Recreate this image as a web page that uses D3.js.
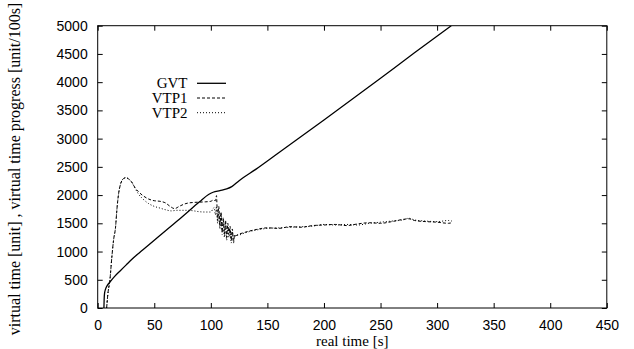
<!DOCTYPE html>
<html>
<head>
<meta charset="utf-8">
<title>GVT / VTP</title>
<script src="https://cdn.jsdelivr.net/npm/d3@7"></script>
<style>
  body { margin: 0; background: #fff; }
  svg { display: block; font-family: "Liberation Serif", "Times New Roman", serif; }
  .tick line { stroke: #000; }
  .tick text { font-size: 14px; fill: #000; }
</style>
</head>
<body>
<svg id="chart" width="634" height="349"></svg>
<script>
// data (time in s, value in unit)
const xTicks = [0, 50, 100, 150, 200, 250, 300, 350, 400, 450];
const yTicks = [0, 500, 1000, 1500, 2000, 2500, 3000, 3500, 4000, 4500, 5000];

const gvt = [
  [5.5, 0], [5.7, 150], [6, 250], [7, 340], [8.5, 400], [10.8, 460], [15, 560],
  [20, 660], [25, 760], [30, 860], [40, 1030], [50, 1200], [60, 1370], [75, 1620],
  [90, 1880], [98, 2010], [102, 2050], [108, 2080], [114, 2110], [118.5, 2150],
  [125, 2255], [140, 2460], [160, 2750], [200, 3330], [250, 4070], [280, 4520], [312.5, 5000]
];

const vtp1 = [
  [7.9, 0], [9, 250], [10.8, 500], [12.5, 900], [14, 1200], [15.8, 1437], [17, 1750],
  [18.7, 2055], [20, 2180], [21.7, 2268], [23, 2295], [25, 2309], [27, 2290], [30, 2232],
  [33, 2130], [36, 2060], [40, 1990], [45, 1930], [50, 1900], [55, 1890], [60, 1860],
  [64, 1800], [68, 1760], [72, 1800], [78, 1850], [85, 1870], [90, 1875], [95, 1880],
  [100, 1890], [102, 1910], [104, 1900], [105, 1990], [106, 1550], [107, 1800], [108, 1450],
  [109, 1700], [110, 1350], [111, 1600], [112, 1300], [113, 1550], [114, 1250], [115, 1500],
  [116, 1300], [117, 1450], [118, 1200], [119, 1400], [120, 1150], [121, 1300], [122, 1280],
  [124, 1300], [130, 1340], [140, 1390], [150, 1420], [160, 1410], [170, 1440], [180, 1430],
  [190, 1460], [200, 1470], [210, 1480], [220, 1460], [230, 1490], [240, 1510], [250, 1500],
  [260, 1530], [270, 1570], [275, 1580], [280, 1550], [290, 1530], [300, 1520], [310, 1500], [313, 1510]
];

const vtp2 = [
  [7.9, 0], [9, 250], [10.8, 500], [12.5, 900], [14, 1200], [15.8, 1437], [17, 1750],
  [18.7, 2055], [20, 2180], [21.7, 2268], [23, 2295], [25, 2309], [27, 2290], [30, 2232],
  [33, 2120], [36, 2020], [40, 1930], [45, 1850], [50, 1800], [55, 1770], [60, 1740],
  [65, 1720], [70, 1730], [75, 1730], [80, 1730], [85, 1720], [90, 1705], [95, 1700],
  [100, 1700], [102, 1760], [103, 1780], [104, 1650], [105, 1800], [106, 1500], [107, 1700],
  [108, 1400], [109, 1650], [110, 1300], [111, 1550], [112, 1250], [113, 1500], [114, 1200],
  [115, 1450], [116, 1250], [117, 1400], [118, 1150], [119, 1350], [120, 1200], [121, 1250],
  [122, 1290], [124, 1290], [130, 1330], [140, 1380], [150, 1410], [160, 1420], [170, 1430],
  [180, 1440], [190, 1450], [200, 1480], [210, 1470], [220, 1480], [230, 1470], [240, 1500],
  [250, 1520], [260, 1540], [270, 1560], [275, 1590], [280, 1560], [290, 1540], [300, 1530],
  [310, 1550], [313, 1540]
];

const legendLabels = ["GVT", "VTP1", "VTP2"];

const svg = d3.select("#chart");
const plotL = 97.7, plotR = 606.8, plotT = 25.7, plotB = 308;

const x = d3.scaleLinear().domain([0, 450]).range([plotL, plotR]);
const y = d3.scaleLinear().domain([0, 5000]).range([plotB, plotT]);
const fmt = d3.format("d");

svg.append("defs").append("clipPath").attr("id", "plotClip")
  .append("rect").attr("x", plotL).attr("y", plotT)
  .attr("width", plotR - plotL).attr("height", plotB - plotT);

// axes, ticks pointing inward on all four sides
const gx = svg.append("g").attr("transform", `translate(0,${plotB})`)
  .call(d3.axisBottom(x).tickValues(xTicks).tickFormat(fmt).tickSizeInner(-5).tickSizeOuter(0).tickPadding(12));
const gy = svg.append("g").attr("transform", `translate(${plotL},0)`)
  .call(d3.axisLeft(y).tickValues(yTicks).tickFormat(fmt).tickSizeInner(-5).tickSizeOuter(0).tickPadding(10));
const gt = svg.append("g").attr("transform", `translate(0,${plotT})`)
  .call(d3.axisTop(x).tickValues(xTicks).tickSizeInner(-5).tickSizeOuter(0).tickFormat(""));
const gr = svg.append("g").attr("transform", `translate(${plotR},0)`)
  .call(d3.axisRight(y).tickValues(yTicks).tickSizeInner(-5).tickSizeOuter(0).tickFormat(""));
[gx, gy, gt, gr].forEach(g => g.select(".domain").remove());

svg.append("rect")
  .attr("x", plotL).attr("y", plotT)
  .attr("width", plotR - plotL).attr("height", plotB - plotT)
  .attr("fill", "none").attr("stroke", "#000").attr("stroke-width", 1);

// axis titles
svg.append("text")
  .attr("x", (plotL + plotR) / 2).attr("y", 346)
  .attr("text-anchor", "middle").attr("font-size", 15)
  .text("real time [s]");

svg.append("text")
  .attr("transform", "translate(20,169) rotate(-90)")
  .attr("text-anchor", "middle").attr("font-size", 16)
  .text("virtual time [unit] , virtual time progress [unit/100s]");

// series
const line = d3.line().x(d => x(d[0])).y(d => y(d[1])).curve(d3.curveMonotoneX);
const series = [
  { data: gvt, dash: null, width: 1.3 },
  { data: vtp1, dash: "3,2", width: 1 },
  { data: vtp2, dash: "1,2", width: 1 }
];

const plot = svg.append("g").attr("clip-path", "url(#plotClip)");
series.forEach(s => {
  plot.append("path")
    .attr("d", line(s.data))
    .attr("fill", "none")
    .attr("stroke", "#000")
    .attr("stroke-width", s.width)
    .attr("stroke-dasharray", s.dash);
});

// legend
const legend = svg.append("g");
legendLabels.forEach((label, i) => {
  const ly = 83.3 + i * 14.7;
  legend.append("text")
    .attr("x", 187.5).attr("y", ly + 5)
    .attr("text-anchor", "end").attr("font-size", 15)
    .text(label);
  legend.append("line")
    .attr("x1", 197).attr("x2", 226).attr("y1", ly).attr("y2", ly)
    .attr("stroke", "#000")
    .attr("stroke-width", series[i].width)
    .attr("stroke-dasharray", series[i].dash);
});
</script>
</body>
</html>
